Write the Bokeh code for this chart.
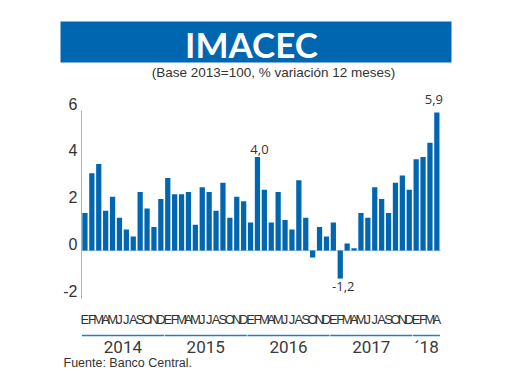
from bokeh.plotting import figure
from bokeh.models import Range1d, LinearAxis, FixedTicker, ColumnDataSource
from bokeh.core.properties import value
from bokeh.embed import file_html
from bokeh.resources import INLINE

# ---------------- data ----------------
month_letters = ["E", "F", "M", "A", "M", "J", "J", "A", "S", "O", "N", "D"]
years = ["2014", "2015", "2016", "2017", "´18"]
values_2014 = [1.6, 3.3, 3.7, 1.7, 2.3, 1.4, 0.9, 0.6, 2.5, 1.8, 1.0, 2.2]
values_2015 = [3.1, 2.4, 2.4, 2.5, 1.1, 2.7, 2.5, 1.7, 2.9, 1.4, 2.3, 2.1]
values_2016 = [1.2, 4.0, 2.6, 1.2, 2.5, 1.3, 0.9, 3.0, 1.4, -0.3, 1.0, 0.6]
values_2017 = [1.2, -1.2, 0.3, 0.1, 1.6, 1.4, 2.7, 2.2, 1.6, 2.9, 3.2, 2.6]
values_2018 = [3.9, 4.0, 4.6, 5.9]
y_ticks = [-2, 0, 2, 4, 6]
y_tick_labels = ["-2", "0", "2", "4", "6"]
labelled_bars = [25, 37, 51]  # Feb 2016, Feb 2017, Apr 2018

series = [values_2014, values_2015, values_2016, values_2017, values_2018]
vals = [v for s in series for v in s]
xs = list(range(len(vals)))
letters = [month_letters[i % 12] for i in xs]

# ---------------- layout helpers (page px -> data) ----------------
ORIGIN = 0        # page px of canvas top-left
W, H = 504, 374
BAR0_CX = 84.45   # page x of first bar centre
PITCH = 6.9       # px per month
ZERO_Y = 250.0    # page y of value 0
PPU = 23.4        # px per unit


def dx(px):
    return (px - BAR0_CX) / PITCH


def dy(py):
    return (ZERO_Y - py) / PPU


BLUE = "#0066b0"
TXT = "#333333"

p = figure(width=W, height=H, x_range=Range1d(dx(ORIGIN), dx(ORIGIN + W)),
           y_range=Range1d(dy(ORIGIN + H), dy(ORIGIN)),
           output_backend="svg", toolbar_location=None, min_border=0,
           x_axis_type=None, y_axis_type=None)
p.outline_line_color = None
p.background_fill_color = "white"
p.border_fill_color = "white"

# title banner
p.quad(left=[dx(60)], right=[dx(451)], top=[dy(21)], bottom=[dy(62)], fill_color=BLUE, line_color=None)
p.text(x=[dx(251)], y=[dy(43)], text=["IMACEC"], text_color="white", text_font=value("Lato"),
       text_font_style="bold", text_font_size="35px", text_align="center", text_baseline="middle")
p.text(x=[dx(273)], y=[dy(72)], text=["(Base 2013=100, % variación 12 meses)"], text_color=TXT,
       text_font=value("Liberation Sans"), text_font_size="13.5px", text_align="center",
       text_baseline="middle")

# baseline at zero
last = len(vals) - 1
p.segment(x0=[-0.5], x1=[last + 0.6], y0=[0], y1=[0], line_color="#b8cce0", line_width=1.2)

# bars
src = ColumnDataSource(dict(x=xs, top=vals))
p.vbar(x="x", top="top", bottom=0, width=0.76, source=src, fill_color=BLUE, line_color=None)

# value labels
for i in labelled_bars:
    v = vals[i]
    txt = f"{v:.1f}".replace(".", ",")
    if v >= 0:
        p.text(x=[i], y=[v], text=[txt], text_color=TXT, text_font=value("Open Sans"),
               text_font_size="13px", text_align="center", text_baseline="bottom",
               x_offset=2 if i < last else -3, y_offset=-3 if i < last else -8)
    else:
        p.text(x=[i], y=[v], text=[txt], text_color=TXT, text_font=value("Open Sans"),
               text_font_size="13px", text_align="center", text_baseline="top",
               x_offset=3, y_offset=3)

# y axis line (bounded) and its labels, which sit slightly above the values
yax = LinearAxis(fixed_location=-0.5, bounds=(dy(298), 6.0), ticker=FixedTicker(ticks=[]),
                 major_tick_in=0, major_tick_out=0, minor_tick_in=0, minor_tick_out=0,
                 axis_line_color="#b0b0b0", axis_line_width=1)
p.add_layout(yax, "left")
p.text(x=[-0.5] * len(y_ticks), y=y_ticks, text=y_tick_labels, text_color=TXT,
       text_font=value("Liberation Sans"), text_font_size="16px", text_align="right",
       text_baseline="middle", x_offset=-4, y_offset=-6.5)

# month axis
xax = LinearAxis(fixed_location=dy(311), ticker=FixedTicker(ticks=xs),
                 major_label_overrides={i: letters[i] for i in xs},
                 major_tick_in=0, major_tick_out=0, minor_tick_in=0, minor_tick_out=0,
                 axis_line_color=None, major_label_standoff=0,
                 major_label_text_font="Liberation Sans", major_label_text_font_size="13px",
                 major_label_text_color=TXT)
p.add_layout(xax, "below")

# year axis + underlines
year_starts = []
year_ends = []
start = 0
for s in series:
    year_starts.append(start)
    year_ends.append(start + len(s) - 1)
    start += len(s)
year_centers = [(a + b) / 2 for a, b in zip(year_starts, year_ends)]
yrax = LinearAxis(fixed_location=dy(336), ticker=FixedTicker(ticks=year_centers),
                  major_label_overrides={c: y for c, y in zip(year_centers, years)},
                  major_tick_in=0, major_tick_out=0, minor_tick_in=0, minor_tick_out=0,
                  axis_line_color=None, major_label_standoff=0,
                  major_label_text_font="Roboto", major_label_text_font_size="17px",
                  major_label_text_color="#3a3a3a")
p.add_layout(yrax, "below")
p.segment(x0=[a - 0.45 for a in year_starts], x1=[b + 0.45 for b in year_ends],
          y0=[dy(335)] * len(series), y1=[dy(335)] * len(series), line_color="#2a7bc0", line_width=1.5)

# source
p.text(x=[dx(63)], y=[dy(362)], text=["Fuente: Banco Central."], text_color=TXT,
       text_font=value("Liberation Sans"), text_font_size="12.5px", text_align="left",
       text_baseline="middle")

open("out.html", "w").write(file_html(p, INLINE))
